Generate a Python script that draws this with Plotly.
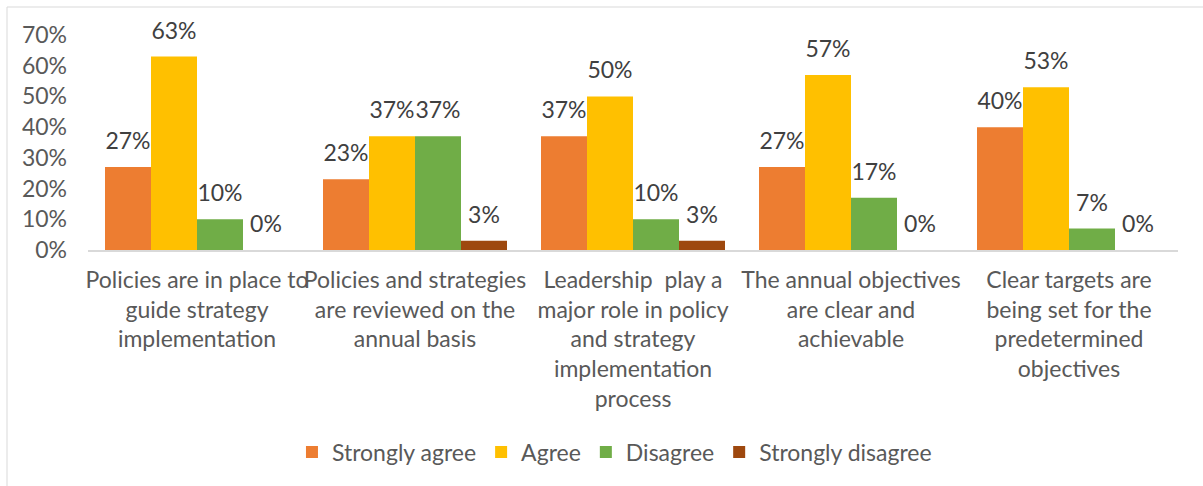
import plotly.graph_objects as go

# Survey statements (category axis) and response shares per answer
categories = [
    "Policies are in place to<br>guide strategy<br>implementation",
    "Policies and strategies<br>are reviewed on the<br>annual basis",
    "Leadership  play a<br>major role in policy<br>and strategy<br>implementation<br>process",
    "The annual objectives<br>are clear and<br>achievable",
    "Clear targets are<br>being set for the<br>predetermined<br>objectives",
]
strongly_agree = [0.27, 0.23, 0.37, 0.27, 0.40]
agree = [0.63, 0.37, 0.50, 0.57, 0.53]
disagree = [0.10, 0.37, 0.10, 0.17, 0.07]
strongly_disagree = [0.00, 0.03, 0.03, 0.00, 0.00]

y_ticks = [0, 0.1, 0.2, 0.3, 0.4, 0.5, 0.6, 0.7]

series = [
    ("Strongly agree", strongly_agree, "#ED7D31"),
    ("Agree", agree, "#FFC000"),
    ("Disagree", disagree, "#70AD47"),
    ("Strongly disagree", strongly_disagree, "#9E480E"),
]

FONT = "Lato, Calibri, Carlito, sans-serif"
GAP = 0.156

fig = go.Figure()
for name, vals, color in series:
    fig.add_trace(go.Bar(
        name=name,
        x=categories,
        y=vals,
        marker=dict(color=color, line=dict(width=0)),
        cliponaxis=False,
    ))

# Value labels, grouped the same way as the bars and lifted above each bar top
for name, vals, color in series:
    fig.add_trace(go.Scatter(
        x=categories,
        y=vals,
        mode="markers+text",
        marker=dict(size=18, opacity=0, color=color),
        texttemplate="%{y:.0%}",
        textposition="top center",
        textfont=dict(family=FONT, size=23, color="#404040"),
        showlegend=False,
        hoverinfo="skip",
        cliponaxis=False,
    ))

fig.update_layout(
    width=1203,
    height=486,
    margin=dict(l=88, r=25, t=35, b=236, autoexpand=False),
    paper_bgcolor="white",
    plot_bgcolor="white",
    barmode="group",
    bargap=GAP,
    bargroupgap=0,
    scattermode="group",
    scattergap=GAP,
    font=dict(family=FONT, size=23, color="#595959"),
    showlegend=True,
    legend=dict(
        orientation="h",
        x=0.483,
        xanchor="center",
        y=-0.94,
        yanchor="middle",
        font=dict(family=FONT, size=23, color="#595959"),
        itemwidth=30,
        tracegroupgap=0,
    ),
)

fig.update_xaxes(
    showline=True,
    linecolor="#D9D9D9",
    linewidth=2,
    showgrid=False,
    ticks="",
    tickangle=0,
    automargin=False,
    tickfont=dict(family=FONT, size=23, color="#595959"),
    ticklabelstandoff=8,
)
fig.update_yaxes(
    range=[0, 0.7],
    tickvals=y_ticks,
    tickformat=".0%",
    showgrid=False,
    zeroline=False,
    showline=False,
    ticks="",
    automargin=False,
    ticklabelstandoff=20,
    tickfont=dict(family=FONT, size=23, color="#595959"),
)

# Chart frame
fig.add_shape(
    type="rect",
    xref="paper", yref="paper",
    x0=-0.0743, x1=1.2, y0=-1.2, y1=1.1302,
    line=dict(color="#D9D9D9", width=1),
    fillcolor="rgba(0,0,0,0)",
    layer="below",
)

fig.write_html("out.html")
